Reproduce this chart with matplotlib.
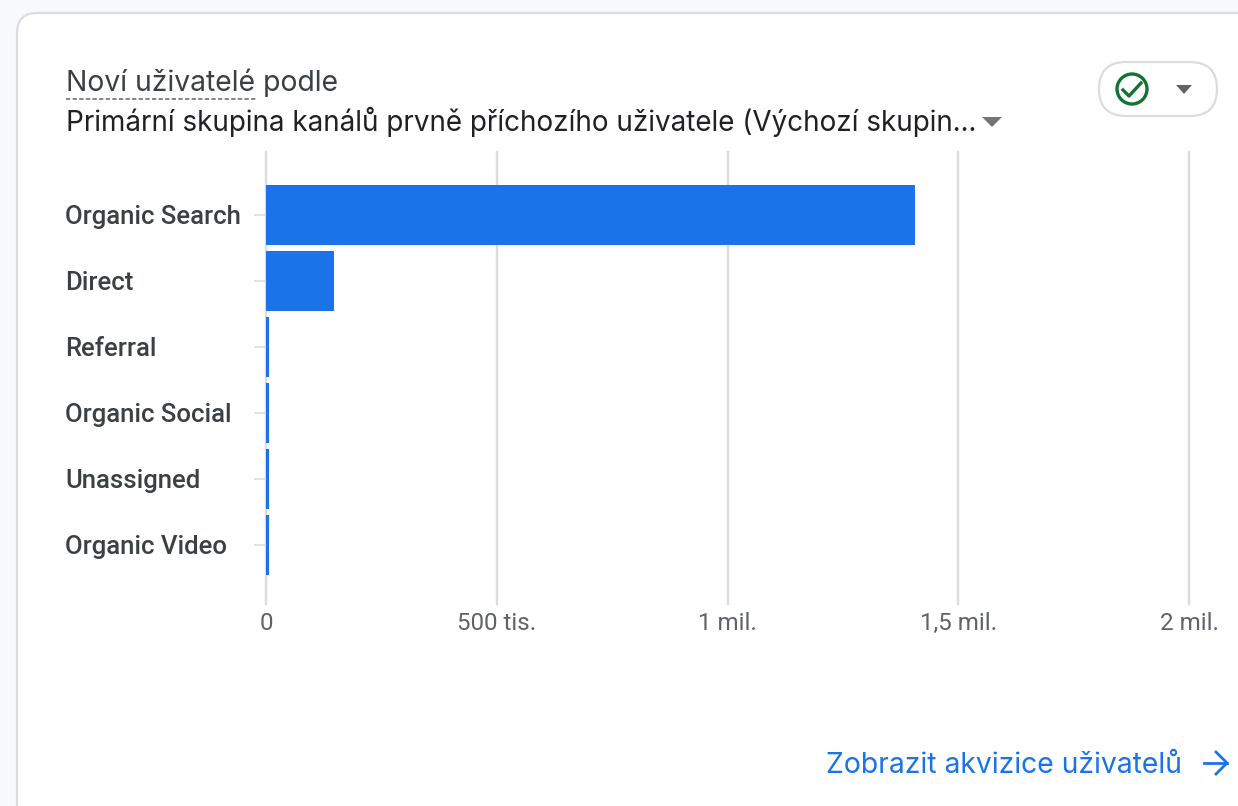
import matplotlib
matplotlib.use("Agg")
import matplotlib.pyplot as plt
from matplotlib.patches import FancyBboxPatch, Polygon, Circle
from matplotlib.transforms import ScaledTranslation

channels = ["Organic Search", "Direct", "Referral", "Organic Social", "Unassigned", "Organic Video"]
new_users = [1406000, 148000, 7000, 7000, 6500, 6500]
tick_vals = [0, 500000, 1000000, 1500000, 2000000]
tick_labels = ["0", "500 tis.", "1 mil.", "1,5 mil.", "2 mil."]

W, H = 1238, 806
fig = plt.figure(figsize=(W / 100, H / 100), dpi=100, facecolor="#f8f9fa")

# background layer in pixels, for the card and the controls
bg = fig.add_axes([0, 0, 1, 1])
bg.set_xlim(0, W)
bg.set_ylim(H, 0)
bg.axis("off")

bg.add_patch(FancyBboxPatch((17, 13), 1400, 900, boxstyle="round,pad=0,rounding_size=20",
                            fc="white", ec="#dadce0", lw=1.6))

bg.text(66, 91, "Noví uživatelé podle", fontsize=20.4, family="Inter", color="#3c4043", va="baseline")
bg.plot([66, 256], [99, 99], color="#80868b", lw=1.4, ls=(0, (2.2, 1.2)))
bg.text(66, 131, "Primární skupina kanálů prvně příchozího uživatele (Výchozí skupin...",
        fontsize=20.05, family="Inter", color="#202124", va="baseline")
bg.add_patch(Polygon([[982, 117], [1002, 117], [992, 127]], fc="#757575", ec="none"))

# status pill
bg.add_patch(FancyBboxPatch((1099, 62), 118, 54, boxstyle="round,pad=0,rounding_size=27",
                            fc="white", ec="#dadce0", lw=1.6))
bg.add_patch(Circle((1132, 89), 15, fc="white", ec="#137333", lw=2.4))
bg.plot([1123, 1129, 1141], [90, 96, 83], color="#137333", lw=2.4)
bg.add_patch(Polygon([[1176, 85], [1192, 85], [1184, 94]], fc="#5f6368", ec="none"))

bg.text(826, 773, "Zobrazit akvizice uživatelů", fontsize=20.4, family="Inter",
        color="#1a73e8", va="baseline")
bg.plot([1204, 1227], [763, 763], color="#1a73e8", lw=2)
bg.plot([1216, 1227, 1216], [752, 763, 774], color="#1a73e8", lw=2)

# chart axes, x and y limits line up with the pixel positions of the reference
x0, x1 = 266, 1189
y0, y1 = 152, 604
ax = fig.add_axes([x0 / W, 1 - y1 / H, (x1 - x0) / W, (y1 - y0) / H])
ax.patch.set_alpha(0)
ax.set_xlim(0, 2000000)
ax.set_ylim(5.894, -0.955)
for s in ax.spines.values():
    s.set_visible(False)

ax.barh(range(len(channels)), new_users, height=60 / 66, color="#1a73e8", zorder=3)
ax.set_xticks(tick_vals)
ax.set_xticklabels(tick_labels, fontsize=17.4, family="Roboto", color="#5f6368")
ax.set_yticks(range(len(channels)))
ax.set_yticklabels(channels, fontsize=18.5, family="Roboto", fontweight="medium", color="#3c4043", ha="left")
ax.tick_params(axis="x", length=0, pad=6)
ax.tick_params(axis="y", length=8.6, width=1.1, color="#dadce0", pad=135.8)
ax.grid(axis="x", color="#dadce0", lw=1.7, zorder=1)
for gl in ax.get_xgridlines():
    gl.set_clip_on(False)
# labels sit one pixel higher than the centred position
for lab in ax.get_yticklabels():
    lab.set_transform(lab.get_transform() + ScaledTranslation(0, 0.01, fig.dpi_scale_trans))

fig.savefig("out.png", dpi=100, facecolor=fig.get_facecolor())
